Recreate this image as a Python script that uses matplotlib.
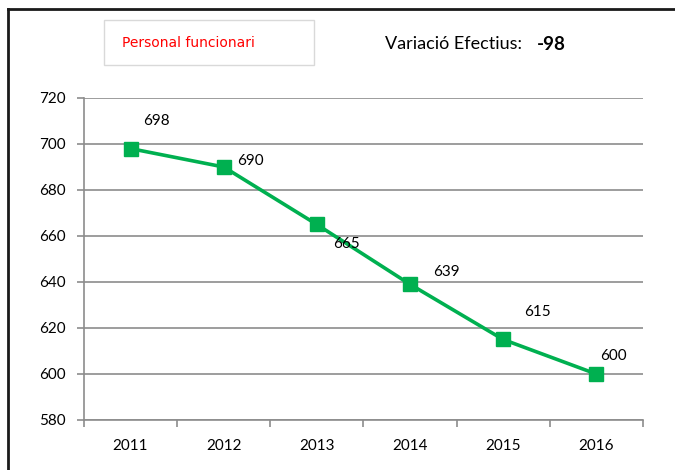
import matplotlib.pyplot as plt
from matplotlib.lines import Line2D
from matplotlib.patches import Rectangle

years = ['2011', '2012', '2013', '2014', '2015', '2016']
staff = [698, 690, 665, 639, 615, 600]
# label offsets in points (dx, dy) as in the original chart
label_offsets = [(19, 20), (19, 4), (21, -14), (26, 9), (25, 20), (12, 13)]

plt.rcParams['font.family'] = ['Lato', 'DejaVu Sans']

fig = plt.figure(figsize=(6.75, 4.7), dpi=100)
ax = fig.add_axes([0.1244, 0.1064, 0.828, 0.6851])

x = list(range(len(years)))
ax.plot(x, staff, color='#00B050', linewidth=2.6, marker='s', markersize=10,
        zorder=3)
for xi, v, off in zip(x, staff, label_offsets):
    ax.annotate(str(v), (xi, v), xytext=off, textcoords='offset points',
                ha='center', va='center', fontsize=11, color='black')

ax.set_xlim(-0.5, len(years) - 0.5)
ax.set_ylim(580, 720)
ax.set_yticks(range(580, 721, 20))
ax.yaxis.grid(True, color='#8c8c8c', linewidth=1.2)
ax.set_axisbelow(True)

# tick marks on category boundaries, labels in the middle
ax.set_xticks([i - 0.5 for i in range(len(years) + 1)])
ax.set_xticklabels([])
ax.set_xticks(x, minor=True)
ax.set_xticklabels(years, minor=True, fontsize=11)
ax.tick_params(axis='x', which='major', length=5, color='#8c8c8c', width=1.2)
ax.tick_params(axis='x', which='minor', length=0, pad=14)
ax.tick_params(axis='y', length=5, color='#8c8c8c', width=1.2, labelsize=11, pad=8)

for s in ['top', 'right']:
    ax.spines[s].set_visible(False)
for s in ['left', 'bottom']:
    ax.spines[s].set_color('#8c8c8c')
    ax.spines[s].set_linewidth(1.2)

# outer frame (top and left edges visible)
fig.add_artist(Line2D([0.0119, 1.0], [0.981, 0.981], color='#1a1a1a', linewidth=2))
fig.add_artist(Line2D([0.0119, 0.0119], [0.0, 0.981], color='#1a1a1a', linewidth=2))

# legend-like box
fig.add_artist(Rectangle((0.154, 0.8617), 0.311, 0.0957, transform=fig.transFigure,
                         facecolor='white', edgecolor='#d9d9d9', linewidth=1))
fig.text(0.181, 0.908, 'Personal funcionari', color='#FF0000', fontsize=10,
         family='DejaVu Sans', ha='left', va='center')

t = fig.text(0.570, 0.906, 'Variació Efectius:', fontsize=13, ha='left', va='center')
ax.annotate('-98', xy=(1, 0.5), xycoords=t, xytext=(11, 0), textcoords='offset points',
            fontsize=13.5, fontweight='bold', ha='left', va='center', annotation_clip=False)

fig.savefig('out.png', dpi=100)
plt.close(fig)
